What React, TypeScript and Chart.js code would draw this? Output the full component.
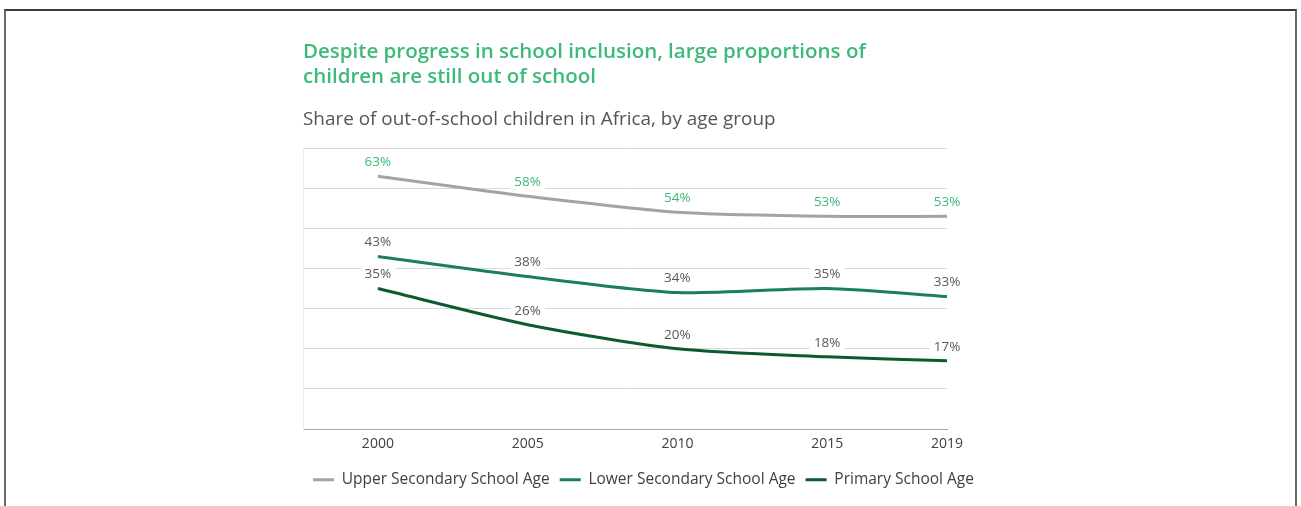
import React, { useEffect, useRef } from "react";
import { Chart, registerables } from "chart.js";

Chart.register(...registerables);

const years = [2000, 2005, 2010, 2015, 2019];
const upperSecondary = [63, 58, 54, 53, 53];
const lowerSecondary = [43, 38, 34, 35, 33];
const primary = [35, 26, 20, 18, 17];
const seriesNames = ["Upper Secondary School Age", "Lower Secondary School Age", "Primary School Age"];
const lineColors = ["#a3a3a3", "#1b7f5b", "#0d5a31"];
const labelColors = ["#3dba7a", "#595959", "#595959"];
const titleLines = ["Despite progress in school inclusion, large proportions of", "children are still out of school"];
const subtitleText = "Share of out-of-school children in Africa, by age group";

const FONT = "'Open Sans', 'Noto Sans', sans-serif";

const dataLabelPlugin = {
  id: "dataLabels",
  afterDatasetsDraw(chart: any) {
    const ctx = chart.ctx;
    ctx.save();
    ctx.font = `13.5px ${FONT}`;
    ctx.textAlign = "center";
    ctx.textBaseline = "middle";
    chart.data.datasets.forEach((ds: any, di: number) => {
      const meta = chart.getDatasetMeta(di);
      meta.data.forEach((pt: any, i: number) => {
        const txt = `${ds.data[i].y}%`;
        const w = ctx.measureText(txt).width + 8;
        const x = pt.x;
        const y = pt.y - 14;
        ctx.fillStyle = "#ffffff";
        ctx.fillRect(x - w / 2, y - 7, w, 14);
        ctx.fillStyle = labelColors[di];
        ctx.fillText(txt, x, y);
      });
    });
    ctx.restore();
  },
};

export default function App() {
  const ref = useRef<HTMLCanvasElement>(null);
  useEffect(() => {
    if (!ref.current) return;
    const mk = (vals: number[]) => years.map((y, i) => ({ x: y, y: vals[i] }));
    const chart = new Chart(ref.current, {
      type: "line",
      data: {
        datasets: [upperSecondary, lowerSecondary, primary].map((vals, i) => ({
          label: seriesNames[i],
          data: mk(vals),
          borderColor: lineColors[i],
          backgroundColor: lineColors[i],
          borderWidth: 3,
          pointRadius: 0,
          tension: 0.25,
          fill: false,
        })),
      },
      options: {
        animation: false,
        responsive: false,
        layout: { padding: { left: 303, right: 280, top: 39.5, bottom: 8.5 } },
        scales: {
          x: {
            type: "linear",
            min: 1997.5,
            max: 2019,
            afterBuildTicks: (axis: any) => {
              axis.ticks = years.map((v) => ({ value: v }));
            },
            afterFit: (axis: any) => {
              axis.height = axis.height + 3;
            },
            ticks: {
              color: "#404040",
              font: { family: FONT, size: 14, lineHeight: 1.2 },
              padding: 6.6,
              maxRotation: 0,
              autoSkip: false,
              callback: (v: any) => String(v),
            },
            grid: { display: false, drawTicks: false },
            border: { display: true, color: "#a6a6a6", width: 1 },
          },
          y: {
            min: 0,
            max: 70,
            ticks: { display: false, stepSize: 10 },
            grid: { color: "#d9d9d9", lineWidth: 1, drawTicks: false },
            border: { display: true, color: "#ececec", width: 1 },
          },
          spacer: {
            type: "linear",
            position: "right",
            min: 0,
            max: 70,
            display: true,
            ticks: { display: false },
            grid: { display: false, drawTicks: false },
            border: { display: false },
            afterFit: (axis: any) => {
              axis.width = 74;
            },
          },
        },
        plugins: {
          title: {
            display: true,
            text: titleLines,
            align: "start",
            color: "#3dba7a",
            font: { family: FONT, size: 20.5, weight: "600", lineHeight: 1.22 },
            padding: { top: 0, bottom: 10 },
          },
          subtitle: {
            display: true,
            text: subtitleText,
            align: "start",
            color: "#555555",
            font: { family: FONT, size: 18.9, lineHeight: 1.17 },
            padding: { top: 9.5, bottom: 17 },
          },
          legend: {
            display: true,
            position: "bottom",
            align: "start",
            labels: {
              boxWidth: 21,
              boxHeight: 3,
              padding: 10,
              color: "#404040",
              font: { family: FONT, size: 15.5 },
              generateLabels: (c: any) =>
                c.data.datasets.map((ds: any, i: number) => ({
                  text: ds.label,
                  fillStyle: lineColors[i],
                  strokeStyle: lineColors[i],
                  lineWidth: 0,
                  fontColor: "#404040",
                  datasetIndex: i,
                  hidden: false,
                })),
            },
          },
          tooltip: { enabled: false },
        },
      },
      plugins: [dataLabelPlugin],
    });
    return () => chart.destroy();
  }, []);

  return (
    <div style={{ position: "absolute", left: 0, top: 0, width: 1301, height: 506, overflow: "hidden", background: "#fff" }}>
      <div
        style={{
          position: "absolute",
          left: 4,
          top: 9,
          width: 1289,
          height: 520,
          borderLeft: "2px solid #6a6a6a",
          borderRight: "2px solid #6a6a6a",
          borderTop: "2px solid #3a3a3a",
        }}
      />
      <canvas ref={ref} width={1301} height={506} style={{ position: "absolute", left: 0, top: 0 }} />
    </div>
  );
}
